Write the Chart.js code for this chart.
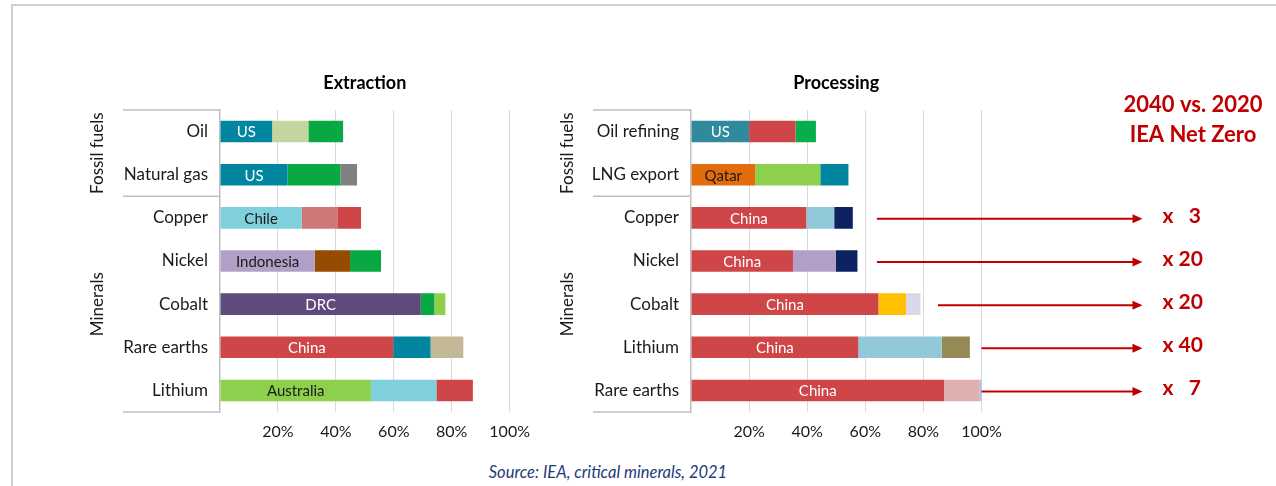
<!DOCTYPE html>
<html>
<head>
<meta charset="utf-8">
<script src="https://cdn.jsdelivr.net/npm/chart.js@4.4.0/dist/chart.umd.min.js"></script>
<style>
  html, body { margin: 0; padding: 0; background: #fff; }
  body { width: 1276px; height: 486px; position: relative; overflow: hidden; font-family: Lato, sans-serif; }
  .frame { position: absolute; left: 11px; top: 4px; right: -4px; bottom: -4px;
           border-left: 2px solid #cfcfcf; border-top: 2px solid #cfcfcf; }
  .box { position: absolute; top: 60px; height: 380px; }
  #boxExtract { left: 80px; width: 460px; }
  #boxProcess { left: 550px; width: 726px; }
  .source { position: absolute; top: 462px; left: 0; width: 1216px; text-align: center;
            font: italic 16.5px Lato, sans-serif; color: #1f3a78; }
</style>
</head>
<body>
<div class="frame"></div>
<div class="box" id="boxExtract"><canvas id="chartExtract"></canvas></div>
<div class="box" id="boxProcess"><canvas id="chartProcess"></canvas></div>
<div class="source">Source: IEA, critical minerals, 2021</div>

<script>
// --- Extraction: top three countries' share (%) ---
const extractCats   = ["Oil", "Natural gas", "Copper", "Nickel", "Cobalt", "Rare earths", "Lithium"];
const extractLead   = ["US", "US", "Chile", "Indonesia", "DRC", "China", "Australia"];
const extractShare1 = [18, 23.3, 28.2, 32.7, 69.3, 59.8, 52.1];
const extractShare2 = [12.5, 18.3, 12.3, 12.2, 4.7, 12.9, 22.6];
const extractShare3 = [12, 5.7, 8.2, 10.7, 3.8, 11.3, 12.6];

// --- Processing: top three countries' share (%) ---
const processCats   = ["Oil refining", "LNG export", "Copper", "Nickel", "Cobalt", "Lithium", "Rare earths"];
const processLead   = ["US", "Qatar", "China", "China", "China", "China", "China"];
const processShare1 = [20, 22.1, 39.7, 35.1, 64.5, 57.6, 87.1];
const processShare2 = [16, 22.4, 9.6, 14.7, 9.5, 28.7, 12.2];
const processShare3 = [7, 9.7, 6.4, 7.5, 5, 9.7, 0.8];

// --- demand growth 2040 vs 2020 (IEA Net Zero) ---
const demandCats   = ["Copper", "Nickel", "Cobalt", "Lithium", "Rare earths"];
const demandGrowth = ["x   3", "x 20", "x 20", "x 40", "x   7"];

const xTicks = [20, 40, 60, 80, 100];

// colours per segment
const extractColors = [
  ["#00879f", "#00879f", "#7fcfdd", "#b29fc8", "#5e4a7b", "#cf4649", "#8dd04d"],
  ["#c4d59f", "#08a842", "#cc7878", "#964b00", "#08a842", "#00879f", "#7fcfdd"],
  ["#08a842", "#808080", "#cf4649", "#08a842", "#8dd04d", "#c4b996", "#cf4649"],
];
const processColors = [
  ["#2f8a9d", "#e36c0a", "#cf4649", "#cf4649", "#cf4649", "#cf4649", "#cf4649"],
  ["#cf4649", "#8dd04d", "#92c9da", "#b29fc8", "#ffc000", "#92c9da", "#e0b0b0"],
  ["#08ae4c", "#00879f", "#0e2160", "#0e2160", "#dcd6e8", "#948a54", "#a8bce0"],
];

const FONT = "Lato, sans-serif";
const RED = "#c00000";

function textColorFor(hex) {
  const r = parseInt(hex.slice(1, 3), 16), g = parseInt(hex.slice(3, 5), 16), b = parseInt(hex.slice(5, 7), 16);
  return (0.299 * r + 0.587 * g + 0.114 * b) < 125 ? "#ffffff" : "#1a1a1a";
}

// titles, group brackets and labels inside the first segment
const panelPlugin = {
  id: "panel",
  afterDraw(chart, args, opts) {
    const { ctx, chartArea, scales } = chart;
    const y = scales.y;
    ctx.save();

    // title
    ctx.font = "bold 18px " + FONT;
    ctx.fillStyle = "#000";
    ctx.textAlign = "center";
    ctx.textBaseline = "middle";
    ctx.fillText(opts.title, (chartArea.left + chartArea.right) / 2, 23);

    // bracket lines on the category side
    ctx.strokeStyle = "#bfbfbf";
    ctx.lineWidth = 1.5;
    const sep = (y.getPixelForValue(1) + y.getPixelForValue(2)) / 2;
    [chartArea.top, sep, chartArea.bottom].forEach((py) => {
      ctx.beginPath();
      ctx.moveTo(43, py);
      ctx.lineTo(chartArea.left, py);
      ctx.stroke();
    });

    // rotated group labels
    ctx.font = "17px " + FONT;
    ctx.fillStyle = "#1a1a1a";
    [[chartArea.top, sep, "Fossil fuels"], [sep, chartArea.bottom, "Minerals"]].forEach(([a, b, txt]) => {
      ctx.save();
      ctx.translate(18, (a + b) / 2);
      ctx.rotate(-Math.PI / 2);
      ctx.fillText(txt, 0, 0);
      ctx.restore();
    });

    // leader name inside the first segment
    const meta = chart.getDatasetMeta(0);
    ctx.font = "15px " + FONT;
    meta.data.forEach((bar, i) => {
      const bg = chart.data.datasets[0].backgroundColor[i];
      ctx.fillStyle = textColorFor(bg);
      ctx.fillText(opts.lead[i], (bar.base + bar.x) / 2, bar.y + 1);
    });

    // arrows to demand growth (processing panel only)
    if (opts.arrows) {
      const x = scales.x;
      const endX = chartArea.right + 161;
      opts.arrows.forEach((cat, k) => {
        const py = y.getPixelForValue(opts.cats.indexOf(cat)) + 1;
        const sx = x.getPixelForValue(opts.arrowFrom[k]);
        ctx.strokeStyle = RED;
        ctx.fillStyle = RED;
        ctx.lineWidth = 2;
        ctx.beginPath();
        ctx.moveTo(sx, py);
        ctx.lineTo(endX - 8, py);
        ctx.stroke();
        ctx.beginPath();
        ctx.moveTo(endX, py);
        ctx.lineTo(endX - 10, py - 4.5);
        ctx.lineTo(endX - 10, py + 4.5);
        ctx.closePath();
        ctx.fill();
        ctx.font = "bold 21px " + FONT;
        ctx.textAlign = "left";
        ctx.fillText(opts.growth[k], chartArea.right + 181, py - 3);
        ctx.textAlign = "center";
      });
      ctx.font = "bold 22px " + FONT;
      ctx.fillStyle = RED;
      ctx.fillText("2040 vs. 2020", 643, 45);
      ctx.fillText("IEA Net Zero", 643, 75);
    }
    ctx.restore();
  },
};

function makeChart(id, cats, s1, s2, s3, colors, yWidth, padRight, panelOpts) {
  return new Chart(document.getElementById(id), {
    type: "bar",
    data: {
      labels: cats,
      datasets: [s1, s2, s3].map((d, k) => ({
        data: d,
        backgroundColor: colors[k],
        borderWidth: 0,
        categoryPercentage: 1,
        barPercentage: 0.5,
      })),
    },
    options: {
      indexAxis: "y",
      responsive: true,
      maintainAspectRatio: false,
      animation: false,
      layout: { padding: { top: 50, right: padRight, left: 0, bottom: 0 } },
      plugins: {
        legend: { display: false },
        tooltip: { enabled: false },
        panel: panelOpts,
      },
      scales: {
        x: {
          stacked: true,
          min: 0,
          max: 100,
          afterBuildTicks(scale) { scale.ticks = [0].concat(xTicks).map((v) => ({ value: v })); },
          afterFit(scale) { scale.height = 28; },
          border: { display: false },
          grid: {
            drawTicks: false,
            color: (c) => (c.tick && c.tick.value === 0 ? "rgba(0,0,0,0)" : "#d9d9d9"),
          },
          ticks: {
            padding: 10,
            color: "#1a1a1a",
            font: { family: FONT, size: 16 },
            callback: (v) => (v === 0 ? "" : v + "%"),
          },
        },
        y: {
          stacked: true,
          afterFit(scale) { scale.width = yWidth; },
          grid: { display: false, drawTicks: false },
          border: { display: true, color: "#bfbfbf", width: 1.5 },
          ticks: { padding: 12, color: "#1a1a1a", font: { family: FONT, size: 17 } },
        },
      },
    },
    plugins: [panelPlugin],
  });
}

makeChart("chartExtract", extractCats, extractShare1, extractShare2, extractShare3,
  extractColors, 140, 27, { title: "Extraction", lead: extractLead });

makeChart("chartProcess", processCats, processShare1, processShare2, processShare3,
  processColors, 141, 294.5, {
    title: "Processing", lead: processLead, cats: processCats,
    arrows: demandCats, growth: demandGrowth, arrowFrom: [64, 64, 85, 100, 100],
  });
</script>
</body>
</html>
